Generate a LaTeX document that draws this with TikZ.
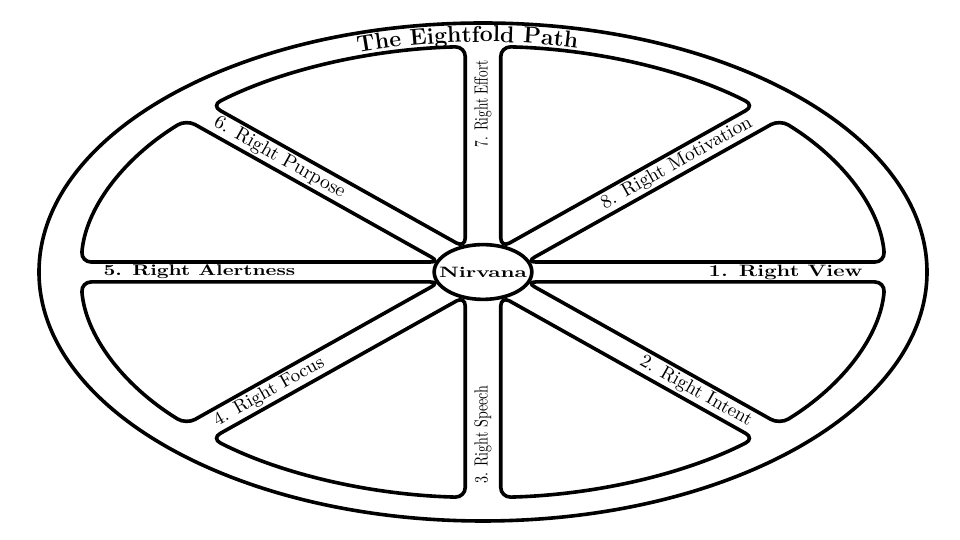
\documentclass[tikz,border=0pt]{standalone}
\usepackage{graphicx}
\usetikzlibrary{decorations.text}

\newcommand\titlefont{\bfseries\fontsize{11.5}{13}\selectfont}

\begin{document}
\begin{tikzpicture}[x=0.5pt, y=0.5pt,
    rimline/.style={line width=1.8pt},
    sector/.style={line width=1.8pt, rounded corners=5pt, fill=white},
    spokelabel/.style={inner sep=1pt}]
    % frame of the picture
    \fill[white] (0,0) rectangle (960,540);
    \useasboundingbox (0,0) rectangle (960,540);

    % the wheel: a unit circle squashed into an ellipse
    \begin{scope}[shift={(483,268)}, xscale=444, yscale=249]
        % outer rim
        \draw[rimline] (0,0) circle (1);
        % the eight panels between the spokes
        \foreach \a in {0,45,...,315}
            \draw[sector] ({\a+22.5}:0.1045) -- ({\a+2.53}:0.906)
                arc[start angle=\a+2.53, end angle=\a+42.47, radius=0.906] -- cycle;
        % hub
        \draw[rimline, fill=white] (0,0) circle (0.11);
        \node[inner sep=0pt, font=\bfseries\fontsize{10}{12}\selectfont] (nirvana) at (0,0)
            {\scalebox{1.1}[0.75]{Nirvana}};
        % title along the top of the rim
        \path[decorate, decoration={text along path, text align=center,
            text={|\titlefont|The Eightfold Path}}]
            (117.3:0.924) arc[start angle=117.3, end angle=67.3, radius=0.924];
        % labels on the spokes
        \foreach \a/\txt/\anc/\rot/\fs/\wt/\sx/\sy [count=\i] in {
            0/{1. Right View}/east/0/11/\bfseries/1/0.75,
            -45/{2. Right Intent}/east/-29.3/9.5/\mdseries/1/1,
            -90/{3. Right Speech}/west/90/9.5/\mdseries/0.74/1,
            -135/{4. Right Focus}/west/29.3/9.3/\mdseries/1/1,
            180/{5. Right Alertness}/west/0/10.3/\bfseries/1/0.75,
            135/{6. Right Purpose}/west/-29.3/9.8/\mdseries/1/1,
            90/{7. Right Effort}/east/90/9.5/\mdseries/0.7/1,
            45/{8. Right Motivation}/east/29.3/9.7/\mdseries/1/1}
            \node[spokelabel, anchor=\anc, rotate=\rot,
                font=\wt\fontsize{\fs}{12}\selectfont] (way\i) at (\a:0.86)
                {\scalebox{\sx}[\sy]{\txt}};
    \end{scope}
\end{tikzpicture}
\end{document}
